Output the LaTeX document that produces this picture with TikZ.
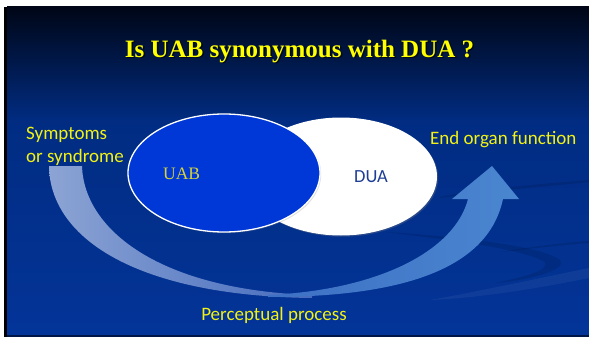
\documentclass[tikz,border=0pt]{standalone}
\usepackage{fontspec}
\setmainfont{Liberation Serif}
\newfontfamily\calib{Carlito}
\newfontfamily\timesface{Liberation Serif}
\usetikzlibrary{shapes.geometric,shadows}

\definecolor{navytop}{RGB}{0,6,22}
\definecolor{navymid}{RGB}{1,44,130}
\definecolor{navylow}{RGB}{3,52,152}
\definecolor{navyline}{RGB}{0,22,70}
\definecolor{uabblue}{RGB}{0,56,215}
\definecolor{titleyellow}{RGB}{255,255,0}
\definecolor{labelyellow}{RGB}{242,242,20}
\definecolor{uabtext}{RGB}{215,210,55}
\definecolor{duatext}{RGB}{30,62,150}
\definecolor{bandlight}{RGB}{140,164,212}
\definecolor{bandfade}{RGB}{70,108,190}
\definecolor{arrowleft}{RGB}{62,112,196}
\definecolor{arrowright}{RGB}{74,134,208}

\tikzset{
  setshape/.style={ellipse, inner sep=0pt, minimum width=192pt, minimum height=118pt},
  label19/.style={font=\calib\fontsize{19}{23}\selectfont, text=labelyellow, inner sep=0pt},
  swoosh/.style={opacity=0.11, fill=black},
  glint/.style={opacity=0.05, fill=white}
}

\begin{document}
\begin{tikzpicture}[x=1pt,y=-1pt]
\useasboundingbox (0,0) rectangle (589,337);
\fill[white] (0,0) rectangle (589,337);

% slide background
\shade[top color=navytop, bottom color=navymid] (7,7) rectangle (589,121);
\shade[top color=navymid, bottom color=navylow] (7,120) rectangle (589,336);
\fill[black] (4,7) rectangle (7,337);
\fill[navyline] (7,335) rectangle (589,337);

% faint background swooshes
\fill[swoosh] (440,197) .. controls (480,189) and (540,184) .. (589,180)
  -- (589,182) .. controls (540,187) and (480,192) .. (440,198) -- cycle;
\fill[swoosh] (385,232) .. controls (450,236) and (540,245) .. (560,260)
  .. controls (568,270) and (530,280) .. (495,283)
  .. controls (525,277) and (550,270) .. (545,262)
  .. controls (520,248) and (450,240) .. (385,232) -- cycle;
\fill[swoosh] (500,252) .. controls (530,247) and (560,243) .. (589,241)
  -- (589,243) .. controls (560,245) and (530,249) .. (500,252) -- cycle;
\fill[glint] (430,300) .. controls (480,291) and (540,278) .. (589,268)
  -- (589,278) .. controls (540,288) and (480,298) .. (430,300) -- cycle;

% light curved band on the left
\shade[left color=bandlight, right color=bandfade]
  (49,166) .. controls (50,240) and (140,296) .. (312,298)
  -- (312,295) .. controls (160,290) and (84,230) .. (82,166) -- cycle;

% rising arrow on the right
\shade[left color=arrowleft, right color=arrowright]
  (492,166) -- (519,199) -- (503,199)
  .. controls (488,270) and (400,297) .. (268,297)
  -- (268,295) .. controls (380,290) and (455,250) .. (468,199)
  -- (452,199) -- cycle;

% the two overlapping sets
\node[setshape, fill=white,
      drop shadow={opacity=0.3, shadow xshift=1.2pt, shadow yshift=-1.2pt}]
  (dua) at (341,176.5) {};
\node[setshape, fill=uabblue, draw=white, line width=1.3pt,
      drop shadow={opacity=0.25, shadow xshift=1.2pt, shadow yshift=-1.2pt}]
  (uab) at (224,173) {};

\node[anchor=base, inner sep=0pt, text=uabtext,
      font=\timesface\fontsize{17.5}{21}\selectfont] (uablbl) at (181.7,179.3) {UAB};
\node[anchor=base, inner sep=0pt, text=duatext,
      font=\calib\fontsize{18.5}{22}\selectfont] (dualbl) at (371,182.3) {DUA};

% title
\node[anchor=base, inner sep=0pt, text=black, opacity=0.6,
      font=\timesface\bfseries\fontsize{25}{30}\selectfont] (titleshadow) at (301,58.8)
  {Is UAB synonymous with DUA ?};
\node[anchor=base, inner sep=0pt, text=titleyellow,
      font=\timesface\bfseries\fontsize{25}{30}\selectfont] (title) at (299.5,57.3)
  {Is UAB synonymous with DUA ?};

% labels
\node[label19, anchor=base west] (sym1) at (26,139.3) {Symptoms};
\node[label19, anchor=base west] (sym2) at (26,162.3) {or syndrome};
\node[label19, anchor=base west] (endorgan) at (430,144) {End organ function};
\node[label19, anchor=base] (percept) at (274,320) {Perceptual process};
\end{tikzpicture}
\end{document}
